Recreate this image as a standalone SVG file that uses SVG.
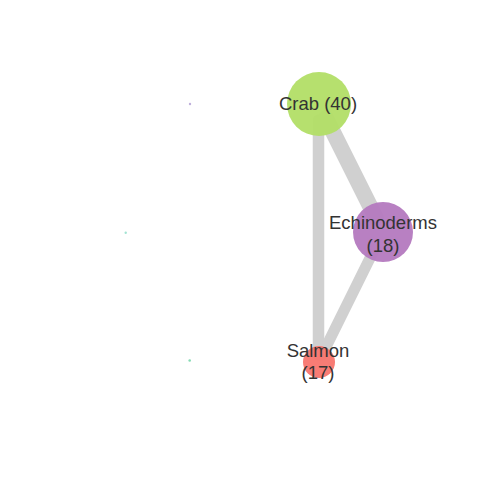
<svg xmlns="http://www.w3.org/2000/svg" width="480" height="480" viewBox="0 0 480 480">
<style>
.edge{stroke:#d0d0d0;fill:none;stroke-linecap:round}
.lbl{font-family:"Liberation Sans",Arial,sans-serif;font-size:18.5px;fill:#333333;text-anchor:middle}
</style>
<rect width="480" height="480" fill="#ffffff"/>
<g id="edges">
<line class="edge" x1="326" y1="118" x2="376" y2="218" stroke-width="16"/>
<line class="edge" x1="318.5" y1="120" x2="318.5" y2="355" stroke-width="11.5"/>
<line class="edge" x1="375" y1="248" x2="322" y2="355" stroke-width="11"/>
</g>
<g id="node-small1"><circle cx="190" cy="104" r="1.2" fill="#bfb0dc"/></g>
<g id="node-small2"><circle cx="125.7" cy="232.7" r="1.2" fill="#a3e3d2"/></g>
<g id="node-small3"><circle cx="189.7" cy="360.5" r="1.3" fill="#86dbb4"/></g>
<g id="node-crab">
<circle cx="319" cy="104" r="32" fill="#b2de66" fill-opacity="0.95"/>
<text class="lbl" x="318" y="110">Crab (40)</text>
</g>
<g id="node-echinoderms">
<circle cx="383" cy="232" r="30" fill="#b479bf" fill-opacity="0.95"/>
<text class="lbl" x="383" y="229">Echinoderms</text>
<text class="lbl" x="383" y="251.5">(18)</text>
</g>
<g id="node-salmon">
<circle cx="319" cy="362" r="16" fill="#f8756e" fill-opacity="0.95"/>
<text class="lbl" x="318" y="357">Salmon</text>
<text class="lbl" x="318" y="379">(17)</text>
</g>
</svg>
